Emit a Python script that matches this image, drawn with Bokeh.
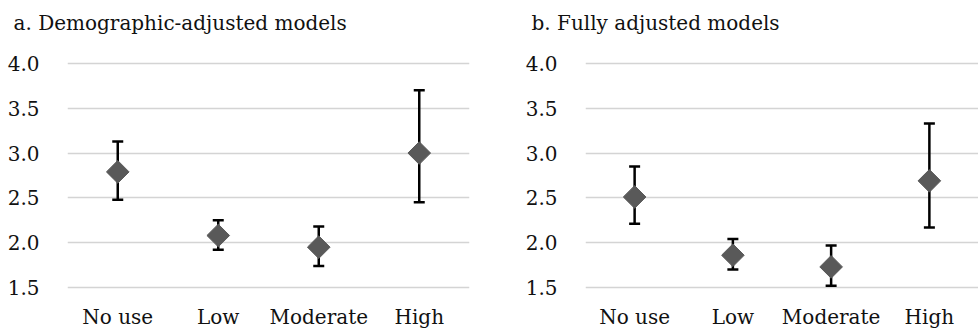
import math
from bokeh.plotting import figure
from bokeh.models import FixedTicker, PrintfTickFormatter, Range1d, FactorRange, ColumnDataSource
from bokeh.layouts import row
from bokeh.embed import file_html
from bokeh.resources import INLINE

categories = ["No use", "Low", "Moderate", "High"]
y_ticks = [1.5, 2.0, 2.5, 3.0, 3.5, 4.0]

# a. Demographic-adjusted models
demo_est = [2.79, 2.08, 1.95, 3.00]
demo_lower = [2.48, 1.92, 1.74, 2.45]
demo_upper = [3.13, 2.25, 2.18, 3.70]

# b. Fully adjusted models
full_est = [2.51, 1.86, 1.73, 2.69]
full_lower = [2.21, 1.70, 1.52, 2.17]
full_upper = [2.85, 2.04, 1.97, 3.33]

titles = ["a. Demographic-adjusted models", "b. Fully adjusted models"]

FONT = "DejaVu Serif"
TEXT = "#111111"


def make_panel(title, est, lower, upper, width, border_left, border_right):
    src = ColumnDataSource(dict(cat=categories, est=est, lo=lower, hi=upper))
    p = figure(
        x_range=FactorRange(factors=categories, range_padding=0),
        y_range=Range1d(1.4444, 4.2333),
        width=width, height=331,
        output_backend="svg", toolbar_location=None,
        min_border_left=border_left, min_border_right=border_right,
        min_border_top=42, min_border_bottom=0,
    )
    p.title.text = title
    p.title.text_font = FONT
    p.title.text_font_size = "20px"
    p.title.text_font_style = "normal"
    p.title.text_color = TEXT
    p.title.offset = -54
    p.title.standoff = 16

    p.outline_line_color = None
    p.background_fill_color = "white"
    p.border_fill_color = "white"

    p.xgrid.grid_line_color = None
    p.ygrid.grid_line_color = "#d4d4d4"
    p.ygrid.grid_line_width = 1.3

    for ax in (p.xaxis[0], p.yaxis[0]):
        ax.axis_line_color = None
        ax.major_tick_line_color = None
        ax.minor_tick_line_color = None
        ax.major_tick_out = 0
        ax.major_tick_in = 0
        ax.major_label_text_font = FONT
        ax.major_label_text_color = TEXT

    p.yaxis.ticker = FixedTicker(ticks=y_ticks)
    p.yaxis.formatter = PrintfTickFormatter(format="%.1f")
    p.yaxis.major_label_text_font_size = "20px"
    p.yaxis.major_label_standoff = 28

    p.xaxis.major_label_text_font_size = "20px"
    p.xaxis.major_label_standoff = 12

    p.segment(x0="cat", y0="lo", x1="cat", y1="hi", source=src,
              line_color="black", line_width=2.5)
    p.scatter(x="cat", y="lo", source=src, marker="dash", size=11,
              line_color="black", line_width=2.5)
    p.scatter(x="cat", y="hi", source=src, marker="dash", size=11,
              line_color="black", line_width=2.5)
    p.scatter(x="cat", y="est", source=src, marker="square", size=16,
              angle=math.pi / 4, fill_color="#595959", line_color="#595959")
    return p


p1 = make_panel(titles[0], demo_est, demo_lower, demo_upper, 489, 67, 20)
p2 = make_panel(titles[1], full_est, full_lower, full_upper, 489, 96, 0)

layout = row(p1, p2, spacing=0)
open("out.html", "w").write(file_html(layout, INLINE))
